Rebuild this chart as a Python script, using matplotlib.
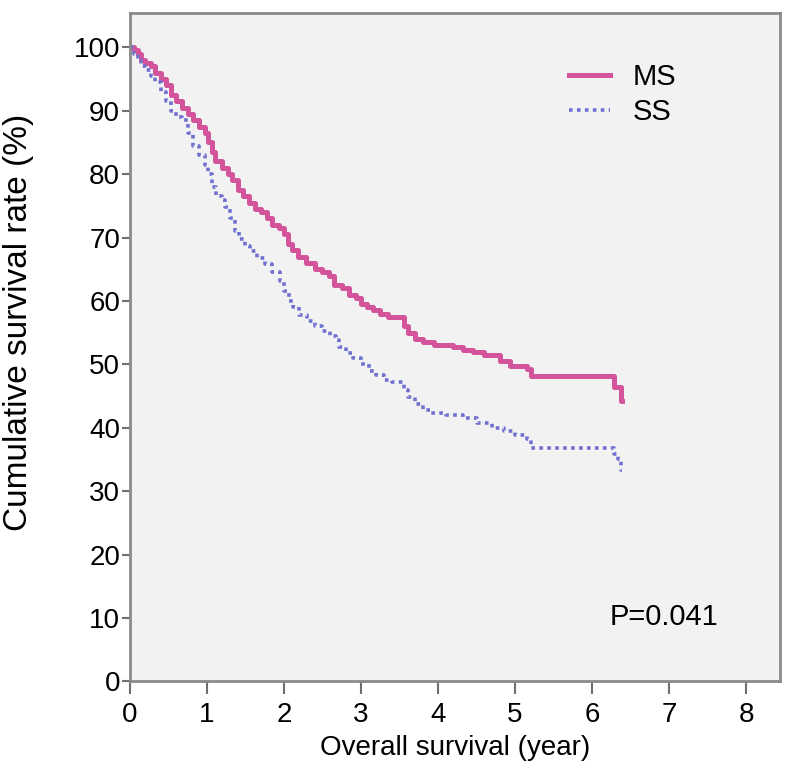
import matplotlib
matplotlib.use("Agg")
import matplotlib.pyplot as plt

plt.rcParams['font.family'] = ['Liberation Sans', 'DejaVu Sans']

# Kaplan-Meier estimates (years, survival %)
ms_time = [0, 0.05, 0.1, 0.15, 0.2, 0.27, 0.33, 0.4, 0.47, 0.54, 0.6, 0.68, 0.75,
           0.82, 0.9, 0.97, 1.02, 1.06, 1.1, 1.2, 1.27, 1.32, 1.4, 1.47, 1.54, 1.62,
           1.7, 1.78, 1.85, 1.93, 2.0, 2.05, 2.1, 2.18, 2.28, 2.4, 2.5, 2.59, 2.65,
           2.75, 2.85, 2.93, 3.0, 3.08, 3.15, 3.25, 3.35, 3.56, 3.61, 3.7, 3.8, 3.95,
           4.2, 4.33, 4.46, 4.6, 4.8, 4.94, 5.15, 5.2, 6.29, 6.37, 6.39]
ms_surv = [100, 99.5, 99, 98, 97.5, 97, 96, 95, 94, 92.5, 91.5, 90.5, 89.5,
           88.5, 87.5, 86.5, 85, 83.5, 82, 81, 80, 79, 77.5, 76.5, 75.5, 74.5,
           74, 73, 72, 71.5, 70.5, 69, 68, 67, 66, 65, 64.5, 64, 62.5,
           62, 61, 60.5, 59.5, 59, 58.5, 58, 57.5, 56, 55, 54, 53.5, 53,
           52.8, 52.3, 51.9, 51.4, 50.5, 49.8, 49.2, 48.1, 46.4, 44.2, 44.2]

ss_time = [0, 0.05, 0.1, 0.15, 0.2, 0.27, 0.33, 0.4, 0.47, 0.54, 0.6, 0.67, 0.75,
           0.82, 0.9, 0.97, 1.02, 1.06, 1.12, 1.19, 1.24, 1.3, 1.36, 1.42, 1.5, 1.56,
           1.65, 1.75, 1.85, 1.95, 2.0, 2.06, 2.12, 2.2, 2.3, 2.4, 2.5, 2.6, 2.67,
           2.72, 2.8, 2.9, 3.0, 3.1, 3.2, 3.3, 3.4, 3.56, 3.61, 3.7, 3.8, 3.9, 4.1,
           4.33, 4.5, 4.7, 4.85, 5.0, 5.15, 5.2, 6.29, 6.33, 6.37, 6.39]
ss_surv = [100, 99, 98, 97, 96.5, 95.5, 94.5, 93, 91.5, 90, 89, 88.5, 86.5,
           84.5, 83, 81.5, 80, 78, 76.5, 75.9, 74.8, 73, 71, 69.8, 68.7, 67.8,
           66.8, 65.8, 64.5, 63.2, 61.5, 60, 59, 57.8, 56.8, 56, 55.3, 54.5, 53.8,
           52.7, 51.8, 51, 50, 49, 48.3, 47.6, 47.2, 46, 44.8, 43.8, 42.8, 42.3, 42,
           41.5, 40.8, 40, 39.5, 38.8, 38.3, 36.8, 35.8, 35, 33.3, 33.3]

x_ticks = [0, 1, 2, 3, 4, 5, 6, 7, 8]
y_ticks = [0, 10, 20, 30, 40, 50, 60, 70, 80, 90, 100]

fig = plt.figure(figsize=(7.92, 7.69), dpi=100)
ax = fig.add_axes([0.164, 0.114, 0.821, 0.869])
ax.set_facecolor('#f2f2f2')

ax.step(ms_time, ms_surv, where='post', color='#d4549c', lw=3.6, label='MS')
ax.step(ss_time, ss_surv, where='post', color='#7070d0', lw=2.6,
        linestyle=(0, (1, 1.2)), label='SS')

ax.set_xlim(0, 8.44)
ax.set_ylim(0, 105.4)
ax.set_xticks(x_ticks)
ax.set_yticks(y_ticks)
ax.tick_params(labelsize=20, width=1.5, color='#707070')
ax.tick_params(axis='x', length=9, pad=6)
ax.tick_params(axis='y', length=6, pad=1)
for s in ax.spines.values():
    s.set_color('#8a8a8a')
    s.set_linewidth(2)

ax.set_xlabel('Overall survival (year)', fontsize=20)
ax.xaxis.set_label_coords(0.5, -0.08)
ax.set_ylabel('Cumulative survival rate (%)', fontsize=24)
ax.yaxis.set_label_coords(-0.148, 0.537)

ax.legend(loc='upper left', bbox_to_anchor=(0.675, 0.925), frameon=False,
          borderpad=0, borderaxespad=0,
          fontsize=21, handlelength=1.4, handletextpad=0.8, labelspacing=0.25)
ax.text(0.738, 0.085, 'P=0.041', transform=ax.transAxes, fontsize=21)

fig.savefig('out.png', dpi=100)
